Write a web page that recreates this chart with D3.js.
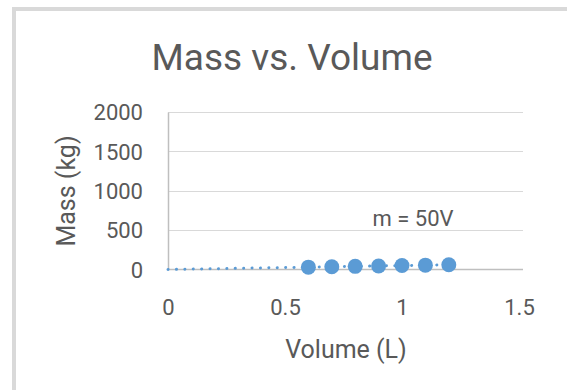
<!DOCTYPE html>
<html>
<head>
<meta charset="utf-8">
<script src="https://cdn.jsdelivr.net/npm/d3@7/dist/d3.min.js"></script>
<style>
  html, body { margin: 0; padding: 0; background: #ffffff; }
  svg { display: block; }
  text { font-family: Roboto, "Noto Sans", sans-serif; fill: #595959; }
</style>
</head>
<body>
<svg id="chart" width="567" height="390"></svg>
<script>
// Measured samples: volume in litres, mass in kilograms
const volumes = [0.6, 0.7, 0.8, 0.9, 1.0, 1.1, 1.2];
const masses = [30, 35, 40, 45, 50, 55, 60];

// Axis ticks
const xTicks = [0, 0.5, 1, 1.5];
const yTicks = [0, 500, 1000, 1500, 2000];

// Trendline through the origin: m = 50V
const slope = 50;
const trendRange = [0, 1.2];

const svg = d3.select("#chart");
const W = 567, H = 390;
const plot = { left: 168, right: 519, top: 112, bottom: 269.5 };

const x = d3.scaleLinear().domain([0, 1.5]).range([plot.left, plot.right]);
const y = d3.scaleLinear().domain([0, 2000]).range([plot.bottom, plot.top]);

// Outer frame (only its top and left edges fall inside the view)
svg.append("rect")
  .attr("x", 14).attr("y", 9)
  .attr("width", W + 20).attr("height", H + 20)
  .attr("fill", "#ffffff")
  .attr("stroke", "#d9d9d9").attr("stroke-width", 4);

// Title
svg.append("text")
  .attr("x", 292).attr("y", 70)
  .attr("text-anchor", "middle")
  .style("font-size", "37px")
  .text("Mass vs. Volume");

// Horizontal gridlines
svg.append("g")
  .selectAll("line")
  .data(yTicks.filter(d => d !== 0))
  .join("line")
  .attr("x1", plot.left).attr("x2", plot.right + 4)
  .attr("y1", d => Math.round(y(d)) + 0.5).attr("y2", d => Math.round(y(d)) + 0.5)
  .attr("stroke", "#d9d9d9").attr("stroke-width", 1);

// Y axis
const yAxis = svg.append("g")
  .attr("transform", `translate(${plot.left},0)`)
  .call(d3.axisLeft(y).tickValues(yTicks).tickSize(0).tickPadding(25).tickFormat(d3.format("d")));
yAxis.select(".domain").attr("stroke", "#bfbfbf").attr("stroke-width", 1.5);
yAxis.selectAll("text").style("font-size", "22px").attr("fill", "#595959").attr("dy", "0.35em");

// X axis
const xAxis = svg.append("g")
  .attr("transform", `translate(0,${plot.bottom})`)
  .call(d3.axisBottom(x).tickValues(xTicks).tickSize(0).tickPadding(45).tickFormat(d => String(d)));
xAxis.select(".domain").attr("stroke", "#bfbfbf").attr("stroke-width", 1.5)
  .attr("d", `M${plot.left},0H${plot.right + 4}`);
xAxis.selectAll("text").style("font-size", "22px").attr("fill", "#595959").attr("dy", "0");

// Axis titles
svg.append("text")
  .attr("transform", "translate(75,191) rotate(-90)")
  .attr("text-anchor", "middle")
  .style("font-size", "25px")
  .text("Mass (kg)");

svg.append("text")
  .attr("x", 346).attr("y", 358)
  .attr("text-anchor", "middle")
  .style("font-size", "25px")
  .text("Volume (L)");

// Dotted linear trendline
const line = d3.line().x(d => x(d)).y(d => y(slope * d));
svg.append("path")
  .datum(trendRange)
  .attr("d", line)
  .attr("fill", "none")
  .attr("stroke", "#5b9bd5")
  .attr("stroke-width", 3)
  .attr("stroke-linecap", "round")
  .attr("stroke-dasharray", "0.1 8.3");

// Data points
svg.append("g")
  .selectAll("circle")
  .data(volumes.map((v, i) => ({ v, m: masses[i] })))
  .join("circle")
  .attr("cx", d => x(d.v))
  .attr("cy", d => y(d.m))
  .attr("r", 7.5)
  .attr("fill", "#5b9bd5");

// Trendline equation
svg.append("text")
  .attr("x", 413).attr("y", 226)
  .attr("text-anchor", "middle")
  .style("font-size", "22px")
  .text("m = " + slope + "V");
</script>
</body>
</html>
